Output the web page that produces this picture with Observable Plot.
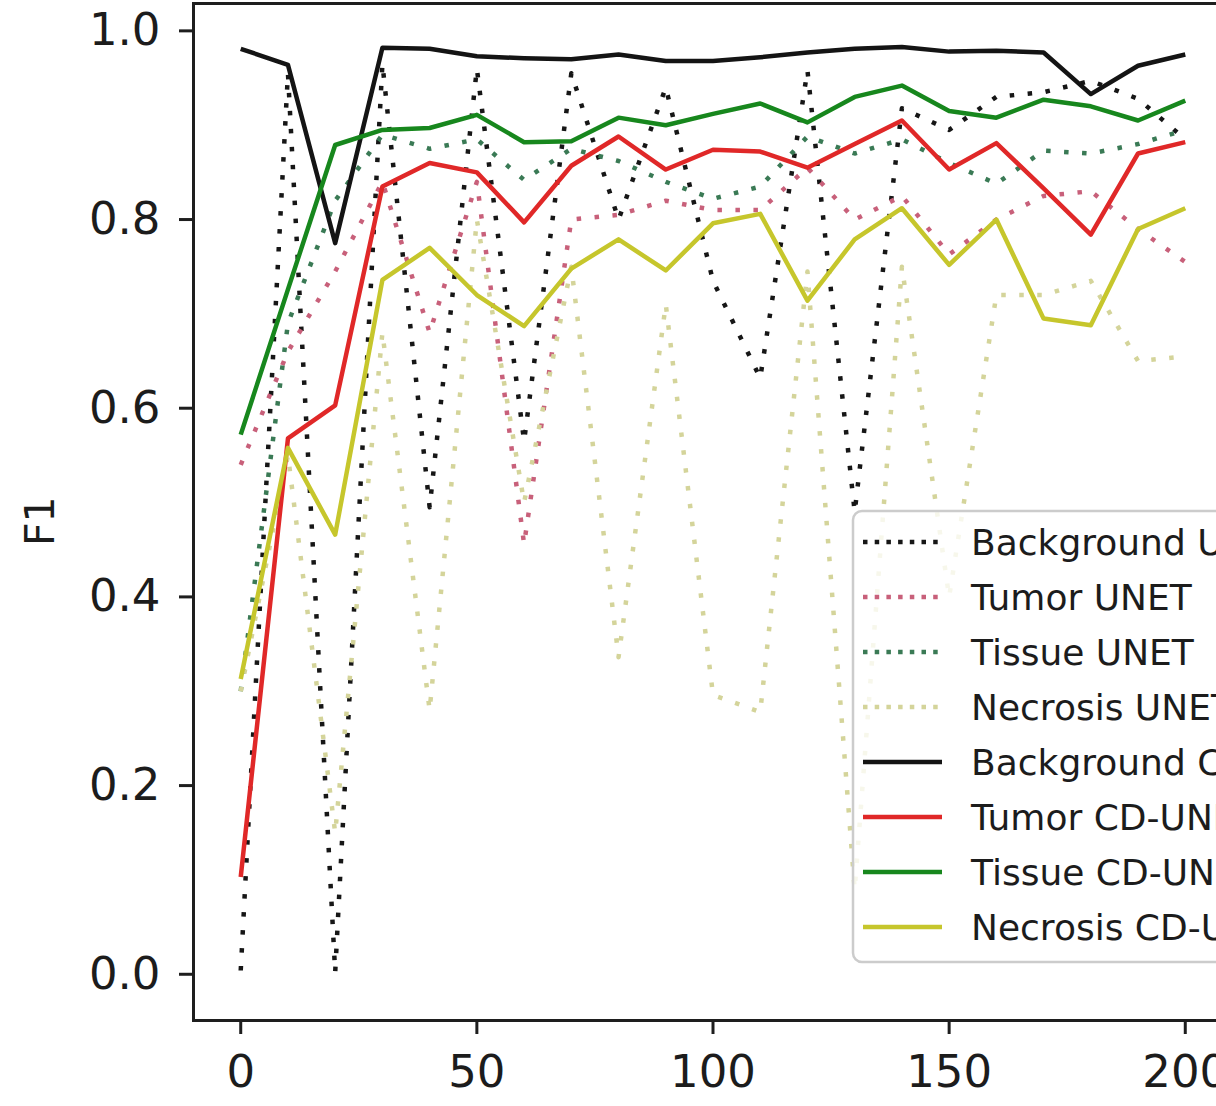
<!DOCTYPE html>
<html>
<head>
<meta charset="utf-8">
<script src="https://cdn.jsdelivr.net/npm/d3@7"></script>
<script src="https://cdn.jsdelivr.net/npm/@observablehq/plot@0.6"></script>
<style>
  html, body { margin: 0; padding: 0; background: #fff; overflow: hidden; }
  #wrap { position: relative; width: 1216px; height: 1106px; overflow: hidden; background: #fff; }
  #wrap > svg { max-width: none !important; }
  #legend { position: absolute; left: 852px; top: 510px; overflow: visible; }
</style>
</head>
<body>
<div id="wrap"></div>
<script>
// ---- data ----
const epochs = [0, 10, 20, 30, 40, 50, 60, 70, 80, 90, 100, 110, 120, 130, 140, 150, 160, 170, 180, 190, 200];

const backgroundUnet = [0.004, 0.955, 0.002, 0.965, 0.495, 0.96, 0.565, 0.955, 0.80, 0.94, 0.735, 0.632, 0.958, 0.49, 0.918, 0.895, 0.93, 0.935, 0.947, 0.928, 0.885];
const tumorUnet      = [0.54, 0.66, 0.745, 0.84, 0.68, 0.84, 0.456, 0.80, 0.805, 0.82, 0.81, 0.81, 0.855, 0.80, 0.825, 0.763, 0.80, 0.825, 0.83, 0.79, 0.755];
const tissueUnet     = [0.30, 0.69, 0.82, 0.89, 0.875, 0.885, 0.842, 0.875, 0.862, 0.84, 0.822, 0.835, 0.888, 0.87, 0.885, 0.86, 0.838, 0.873, 0.87, 0.88, 0.895];
const necrosisUnet   = [0.30, 0.55, 0.15, 0.68, 0.28, 0.80, 0.50, 0.75, 0.336, 0.71, 0.296, 0.278, 0.745, 0.09, 0.75, 0.40, 0.72, 0.72, 0.735, 0.65, 0.655];

const backgroundCd = [0.981, 0.964, 0.775, 0.982, 0.981, 0.973, 0.971, 0.970, 0.975, 0.968, 0.968, 0.972, 0.977, 0.981, 0.983, 0.978, 0.979, 0.977, 0.933, 0.963, 0.975];
const tumorCd      = [0.103, 0.568, 0.603, 0.835, 0.86, 0.85, 0.797, 0.857, 0.888, 0.853, 0.874, 0.872, 0.855, 0.88, 0.905, 0.853, 0.881, 0.833, 0.784, 0.87, 0.882];
const tissueCd     = [0.572, 0.726, 0.879, 0.895, 0.897, 0.911, 0.882, 0.883, 0.908, 0.90, 0.912, 0.923, 0.903, 0.93, 0.942, 0.915, 0.908, 0.927, 0.92, 0.905, 0.926];
const necrosisCd   = [0.313, 0.558, 0.466, 0.736, 0.77, 0.72, 0.687, 0.748, 0.779, 0.746, 0.796, 0.806, 0.714, 0.779, 0.812, 0.752, 0.80, 0.695, 0.688, 0.79, 0.812];

const seriesNames = ["Background UNET", "Tumor UNET", "Tissue UNET", "Necrosis UNET",
                     "Background CD-UNET", "Tumor CD-UNET", "Tissue CD-UNET", "Necrosis CD-UNET"];
const seriesValues = [backgroundUnet, tumorUnet, tissueUnet, necrosisUnet,
                      backgroundCd, tumorCd, tissueCd, necrosisCd];
const seriesColors = ["#161616", "#c8607a", "#3a7a55", "#d4d49a",
                      "#141414", "#e02828", "#17871d", "#c6c62c"];
const seriesDotted = [true, true, true, true, false, false, false, false];

const xTicks = [0, 50, 100, 150, 200];
const yTicks = [0.0, 0.2, 0.4, 0.6, 0.8, 1.0];
const yLabel = ["F1"];

// ---- table ----
const rows = seriesNames.flatMap((name, i) =>
  epochs.map((e, j) => ({series: name, epoch: e, f1: seriesValues[i][j]})));

const lineMarks = seriesNames.map((name, i) =>
  Plot.line(rows.filter(d => d.series === name), {
    x: "epoch", y: "f1",
    stroke: seriesColors[i],
    strokeWidth: 4.5,
    strokeDasharray: seriesDotted[i] ? "4.5,13.5" : null,
    strokeLinecap: "butt",
    strokeLinejoin: "round"
  }));

const chart = Plot.plot({
  width: 1260,
  height: 1106,
  marginLeft: 193,
  marginRight: 28,
  marginTop: 3,
  marginBottom: 86,
  style: {fontFamily: "'DejaVu Sans', sans-serif", fontSize: "45px", color: "#1c1c1c",
          background: "#fff", maxWidth: "none"},
  x: {domain: [-10, 210]},
  y: {domain: [-0.049, 1.029]},
  marks: [
    ...lineMarks,
    Plot.frame({stroke: "#1e1e1e", strokeWidth: 3}),
    Plot.axisX({ticks: xTicks, tickFormat: d => String(d), tickSize: 14, tickPadding: 21,
                strokeWidth: 3, stroke: "#1e1e1e", label: null, fontSize: 45}),
    Plot.axisY({ticks: yTicks, tickFormat: d => d.toFixed(1), tickSize: 14, tickPadding: 19,
                strokeWidth: 3, stroke: "#1e1e1e", label: null, fontSize: 45}),
    Plot.text(yLabel, {text: d => d, frameAnchor: "left", dx: -153, dy: 34, rotate: -90,
                       lineAnchor: "middle", fontSize: 41, fill: "#1c1c1c"})
  ]
});

const wrap = document.getElementById("wrap");
wrap.appendChild(chart);

// ---- legend (inside the axes, cropped at the right edge like the reference) ----
const rowGap = 55, first = 32;
const leg = d3.create("svg")
  .attr("id", "legend")
  .attr("width", 364).attr("height", 460)
  .style("font-family", "'DejaVu Sans', sans-serif");
leg.append("rect")
  .attr("x", 1).attr("y", 1).attr("width", 440).attr("height", 451)
  .attr("rx", 9).attr("ry", 9)
  .attr("fill", "#fff").attr("fill-opacity", 0.8)
  .attr("stroke", "#cccccc").attr("stroke-width", 2.5);
seriesNames.forEach((name, i) => {
  const cy = first + i * rowGap;
  leg.append("line")
    .attr("x1", 11).attr("x2", 90).attr("y1", cy).attr("y2", cy)
    .attr("stroke", seriesColors[i])
    .attr("stroke-width", 4.5)
    .attr("stroke-dasharray", seriesDotted[i] ? "4.5,7.2" : null);
  leg.append("text")
    .attr("x", 119).attr("y", cy + 13)
    .attr("font-size", 36)
    .attr("fill", "#1c1c1c")
    .text(name);
});
wrap.appendChild(leg.node());
</script>
</body>
</html>
